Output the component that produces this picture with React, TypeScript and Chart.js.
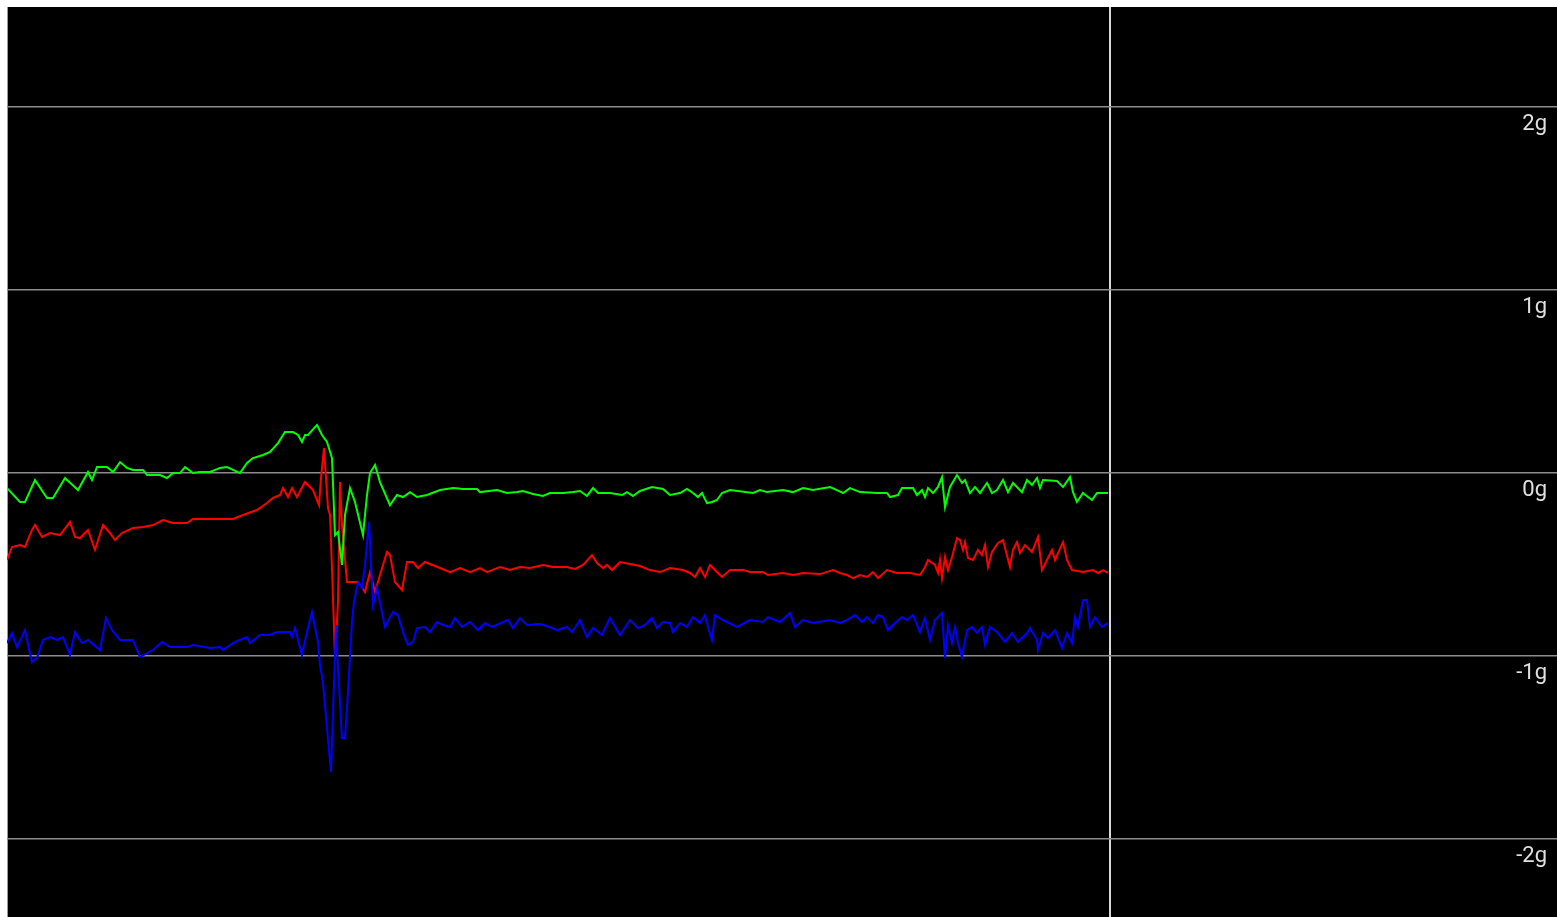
import React, { useEffect, useRef } from "react";
import { Chart, registerables } from "chart.js";

Chart.register(...registerables);

// time (sample units) and acceleration (g)
const greenSeries: [number, number][] = [
  [0, -0.085], [2.6, -0.161], [3.6, -0.161], [5.6, -0.041], [8.0, -0.139], [9.2, -0.139],
  [11.6, -0.03], [14.2, -0.096], [16.2, 0.003], [17.0, -0.041], [18.0, 0.03], [20.0, 0.03],
  [21.2, 0.003], [22.6, 0.057], [24.0, 0.025], [25.2, 0.014], [27.2, 0.014], [28.0, -0.014],
  [30.6, -0.014], [32.0, -0.03], [33.2, -0.003], [34.6, -0.003], [35.6, 0.03], [37.2, -0.003],
  [38.6, 0.003], [40.6, 0.003], [42.6, 0.025], [44.0, 0.03], [46.6, -0.003], [48.0, 0.052],
  [49.2, 0.079], [51.2, 0.096], [52.6, 0.112], [54.2, 0.161], [55.6, 0.221], [57.2, 0.221],
  [58.2, 0.205], [59.0, 0.167], [59.6, 0.205], [60.2, 0.205], [62.0, 0.26], [63.0, 0.205],
  [64.0, 0.167], [65.0, 0.079], [65.6, -0.342], [66.2, -0.325], [67.0, -0.505], [67.6, -0.232],
  [68.6, -0.085], [69.6, -0.161], [71.2, -0.342], [72.0, -0.123], [72.6, -0.003], [73.6, 0.041],
  [74.6, -0.052], [76.6, -0.178], [78.0, -0.123], [79.2, -0.134], [80.6, -0.107], [82.0, -0.134],
  [84.0, -0.123], [86.6, -0.096], [89.2, -0.085], [91.2, -0.09], [94.0, -0.09], [94.6, -0.107],
  [98.0, -0.096], [100.0, -0.112], [102.0, -0.107], [103.2, -0.101], [105.2, -0.117], [107.2, -0.128],
  [108.6, -0.112], [111.2, -0.112], [113.2, -0.107], [114.6, -0.101], [116.0, -0.128], [117.2, -0.085],
  [118.2, -0.112], [120.6, -0.112], [123.0, -0.123], [124.0, -0.107], [125.2, -0.128], [126.6, -0.101],
  [129.0, -0.079], [131.2, -0.09], [132.6, -0.123], [134.6, -0.112], [136.0, -0.09], [137.2, -0.112],
  [138.2, -0.134], [139.0, -0.112], [140.0, -0.167], [141.0, -0.161], [142.0, -0.15], [143.0, -0.112],
  [144.6, -0.096], [149.2, -0.112], [150.6, -0.096], [152.0, -0.107], [155.2, -0.096], [157.2, -0.107],
  [159.2, -0.085], [161.2, -0.096], [164.6, -0.079], [166.0, -0.096], [167.2, -0.112], [168.6, -0.085],
  [170.6, -0.107], [174.0, -0.112], [176.0, -0.112], [176.6, -0.134], [178.2, -0.123], [179.0, -0.085],
  [181.2, -0.085], [182.0, -0.123], [183.0, -0.096], [183.6, -0.134], [184.2, -0.085], [185.2, -0.112],
  [186.2, -0.079], [187.0, -0.025], [187.6, -0.189], [188.6, -0.079], [190.0, -0.014], [191.0, -0.057],
  [191.6, -0.041], [192.6, -0.112], [193.6, -0.079], [194.6, -0.112], [196.0, -0.057], [197.0, -0.112],
  [198.0, -0.096], [199.2, -0.041], [200.2, -0.107], [201.2, -0.057], [203.0, -0.107], [204.0, -0.041],
  [205.0, -0.068], [206.0, -0.03], [206.6, -0.085], [207.2, -0.041], [210.0, -0.046], [211.2, -0.079],
  [212.6, -0.025], [213.2, -0.107], [214.0, -0.161], [215.2, -0.112], [216.2, -0.134], [217.0, -0.15],
  [218.0, -0.112], [220.2, -0.112],
];

const redSeries: [number, number][] = [
  [0, -0.478], [1.0, -0.407], [2.6, -0.396], [3.6, -0.407], [5.0, -0.314], [5.6, -0.287],
  [7.0, -0.352], [8.6, -0.331], [10.6, -0.342], [12.6, -0.27], [13.6, -0.352], [14.6, -0.358],
  [16.2, -0.314], [17.6, -0.423], [19.2, -0.287], [20.6, -0.331], [21.6, -0.369], [23.0, -0.331],
  [25.2, -0.303], [27.2, -0.298], [29.2, -0.287], [31.2, -0.26], [33.2, -0.276], [36.0, -0.276],
  [37.2, -0.254], [45.2, -0.254], [47.2, -0.232], [50.0, -0.205], [52.0, -0.167], [53.2, -0.139],
  [54.6, -0.123], [55.2, -0.085], [56.2, -0.134], [57.0, -0.085], [58.0, -0.134], [59.6, -0.052],
  [61.2, -0.096], [62.4, -0.178], [62.8, -0.03], [63.4, 0.134], [64.2, -0.194], [64.6, -0.232],
  [65.0, -0.522], [65.6, -1.014], [66.2, -0.708], [66.6, -0.052], [67.0, -0.287], [68.0, -0.598],
  [70.2, -0.598], [71.6, -0.653], [72.6, -0.544], [73.6, -0.653], [74.6, -0.56], [76.0, -0.434],
  [76.6, -0.451], [77.6, -0.598], [79.0, -0.642], [80.0, -0.489], [81.2, -0.489], [82.2, -0.522],
  [83.6, -0.489], [86.6, -0.522], [88.6, -0.544], [90.6, -0.522], [92.6, -0.544], [94.6, -0.522],
  [96.0, -0.544], [98.6, -0.516], [100.6, -0.533], [102.6, -0.516], [104.6, -0.522], [107.2, -0.505],
  [109.2, -0.516], [112.0, -0.516], [113.6, -0.527], [115.2, -0.505], [117.0, -0.451], [118.0, -0.495],
  [119.2, -0.522], [120.0, -0.505], [121.0, -0.533], [122.6, -0.489], [124.6, -0.5], [126.6, -0.511],
  [128.6, -0.533], [130.6, -0.544], [132.6, -0.522], [135.2, -0.533], [136.6, -0.549], [137.6, -0.571],
  [138.6, -0.522], [139.6, -0.571], [140.6, -0.505], [142.0, -0.544], [143.0, -0.571], [144.6, -0.533],
  [147.2, -0.533], [148.6, -0.544], [151.2, -0.544], [152.2, -0.56], [155.2, -0.549], [157.2, -0.56],
  [159.2, -0.549], [162.6, -0.555], [165.2, -0.533], [166.6, -0.549], [168.0, -0.56], [169.2, -0.577],
  [170.6, -0.56], [172.0, -0.571], [173.2, -0.544], [174.2, -0.577], [176.0, -0.533], [178.0, -0.549],
  [180.6, -0.549], [182.6, -0.56], [183.6, -0.516], [184.2, -0.478], [185.6, -0.505], [186.2, -0.549],
  [186.6, -0.478], [187.0, -0.577], [187.6, -0.462], [188.2, -0.533], [189.0, -0.462], [190.0, -0.358],
  [190.6, -0.369], [191.2, -0.423], [191.6, -0.38], [192.2, -0.467], [193.2, -0.478], [194.2, -0.423],
  [195.0, -0.451], [195.6, -0.396], [196.2, -0.516], [197.0, -0.434], [198.2, -0.385], [199.2, -0.369],
  [200.6, -0.516], [201.2, -0.423], [202.0, -0.38], [202.6, -0.44], [203.6, -0.396], [205.0, -0.434],
  [206.2, -0.352], [207.0, -0.533], [208.0, -0.478], [209.0, -0.423], [209.6, -0.478], [210.2, -0.44],
  [211.2, -0.38], [212.0, -0.478], [213.0, -0.533], [215.2, -0.544], [217.2, -0.533], [218.2, -0.549],
  [219.2, -0.533], [220.2, -0.549],
];

const blueSeries: [number, number][] = [
  [0, -0.932], [1.0, -0.877], [2.0, -0.954], [3.6, -0.861], [5.0, -1.036], [6.0, -1.014],
  [7.2, -0.915], [8.6, -0.899], [10.0, -0.915], [11.2, -0.899], [12.6, -0.997], [13.6, -0.872],
  [15.0, -0.932], [16.2, -0.915], [18.6, -0.97], [19.8, -0.795], [21.0, -0.861], [22.6, -0.915],
  [25.2, -0.915], [26.6, -1.008], [29.2, -0.97], [31.0, -0.926], [32.6, -0.954], [36.0, -0.954],
  [37.2, -0.943], [40.6, -0.959], [42.6, -0.954], [43.2, -0.97], [45.2, -0.932], [46.6, -0.915],
  [48.0, -0.899], [48.6, -0.932], [50.6, -0.888], [52.6, -0.888], [54.0, -0.872], [56.6, -0.872],
  [57.0, -0.899], [57.6, -0.85], [59.0, -0.997], [60.0, -0.872], [61.0, -0.762], [62.2, -0.926],
  [62.6, -1.052], [63.2, -1.145], [64.0, -1.396], [64.8, -1.637], [65.8, -0.833], [66.2, -1.068],
  [67.0, -1.451], [67.6, -1.451], [68.2, -1.199], [69.0, -0.817], [69.4, -0.708], [70.2, -0.598],
  [71.0, -0.631], [71.6, -0.505], [72.4, -0.27], [73.2, -0.724], [74.0, -0.631], [75.0, -0.762],
  [75.6, -0.844], [77.2, -0.762], [78.2, -0.779], [79.2, -0.872], [80.2, -0.943], [81.2, -0.926],
  [82.0, -0.85], [83.6, -0.844], [84.6, -0.872], [86.0, -0.817], [87.2, -0.833], [88.6, -0.844],
  [89.6, -0.795], [91.0, -0.844], [92.6, -0.817], [94.2, -0.861], [95.6, -0.822], [97.0, -0.844],
  [100.2, -0.806], [101.2, -0.85], [102.6, -0.795], [104.0, -0.833], [106.6, -0.828], [108.6, -0.844],
  [110.0, -0.861], [112.0, -0.844], [113.0, -0.872], [114.6, -0.806], [116.0, -0.899], [117.2, -0.85],
  [119.0, -0.888], [120.6, -0.795], [122.6, -0.888], [124.6, -0.806], [126.2, -0.85], [127.6, -0.833],
  [129.0, -0.795], [130.0, -0.85], [131.2, -0.817], [132.6, -0.822], [133.2, -0.872], [134.6, -0.822],
  [136.0, -0.844], [137.2, -0.79], [138.6, -0.822], [139.6, -0.779], [140.2, -0.844], [141.0, -0.915],
  [141.6, -0.779], [143.2, -0.806], [146.0, -0.844], [148.6, -0.806], [151.2, -0.817], [152.2, -0.79],
  [154.6, -0.817], [156.6, -0.768], [157.6, -0.844], [159.2, -0.806], [161.2, -0.822], [164.6, -0.806],
  [166.6, -0.822], [168.0, -0.806], [169.6, -0.779], [171.0, -0.817], [172.0, -0.79], [173.2, -0.822],
  [174.2, -0.779], [175.2, -0.79], [176.2, -0.861], [177.6, -0.822], [179.0, -0.79], [180.0, -0.806],
  [181.2, -0.779], [182.6, -0.872], [183.6, -0.795], [184.6, -0.915], [185.6, -0.806], [187.0, -0.768],
  [187.6, -1.014], [188.2, -0.833], [189.0, -0.932], [189.6, -0.844], [190.2, -0.932], [191.0, -1.008],
  [192.0, -0.861], [193.0, -0.844], [194.0, -0.877], [195.0, -0.844], [195.6, -0.943], [196.6, -0.844],
  [198.0, -0.872], [199.6, -0.926], [201.0, -0.877], [202.2, -0.926], [204.0, -0.877], [204.6, -0.85],
  [206.0, -0.915], [206.2, -0.97], [207.2, -0.877], [208.2, -0.904], [209.6, -0.861], [211.0, -0.959],
  [212.0, -0.877], [213.0, -0.932], [213.6, -0.79], [214.2, -0.844], [215.2, -0.697], [216.0, -0.697],
  [216.6, -0.844], [217.6, -0.79], [219.0, -0.844], [220.2, -0.822],
];

const cursorTime = 220.5;
const timeRange: [number, number] = [0, 310];
const gRange: [number, number] = [-2.429, 2.544];
const yTickValues = [-2, -1, 0, 1, 2];
const yTickLabels = ["-2g", "-1g", "0g", "1g", "2g"];

export default function App() {
  const canvasRef = useRef<HTMLCanvasElement | null>(null);

  useEffect(() => {
    const canvas = canvasRef.current;
    if (!canvas) return;
    const toPts = (s: [number, number][]) => s.map(([x, y]) => ({ x, y }));
    const chart = new Chart(canvas, {
      type: "line",
      data: {
        datasets: [
          { label: "z", data: toPts(blueSeries), borderColor: "#0000ff", borderWidth: 2, pointRadius: 0, tension: 0, fill: false },
          { label: "y", data: toPts(greenSeries), borderColor: "#00ff00", borderWidth: 2, pointRadius: 0, tension: 0, fill: false },
          { label: "x", data: toPts(redSeries), borderColor: "#ff0000", borderWidth: 2, pointRadius: 0, tension: 0, fill: false },
        ],
      },
      options: {
        animation: false,
        responsive: true,
        maintainAspectRatio: false,
        layout: { padding: 0, autoPadding: false },
        plugins: { legend: { display: false }, tooltip: { enabled: false } },
        events: [],
        scales: {
          x: {
            type: "linear",
            min: timeRange[0],
            max: timeRange[1],
            afterBuildTicks: (axis: any) => {
              axis.ticks = [{ value: timeRange[0] }, { value: cursorTime }];
            },
            afterFit: (axis: any) => {
              axis.height = 0;
              axis.paddingLeft = 0;
              axis.paddingRight = 0;
            },
            ticks: { display: false },
            border: { display: false },
            grid: {
              drawTicks: false,
              color: (ctx: any) => (ctx.tick && ctx.tick.value === cursorTime ? "#d9d9d9" : "#9a9a9a"),
              lineWidth: 2,
            },
          },
          y: {
            type: "linear",
            position: "right",
            min: gRange[0],
            max: gRange[1],
            afterBuildTicks: (axis: any) => {
              axis.ticks = yTickValues.map((v) => ({ value: v }));
            },
            afterFit: (axis: any) => {
              axis.width = 0;
              axis.paddingTop = 0;
              axis.paddingBottom = 0;
            },
            border: { display: false },
            grid: { drawTicks: false, color: "#8c8c8c", lineWidth: 1.5 },
            ticks: {
              mirror: true,
              padding: -10,
              labelOffset: 18,
              color: "#e0e0e0",
              font: { family: "Roboto", size: 22 },
              callback: (value: any) => {
                const i = yTickValues.indexOf(Number(value));
                return i >= 0 ? yTickLabels[i] : "";
              },
            },
          },
        },
      },
    });
    return () => chart.destroy();
  }, []);

  return (
    <div
      style={{
        position: "fixed",
        left: 7,
        top: 7,
        width: 1550,
        height: 910,
        background: "#000",
      }}
    >
      <canvas ref={canvasRef} />
    </div>
  );
}
